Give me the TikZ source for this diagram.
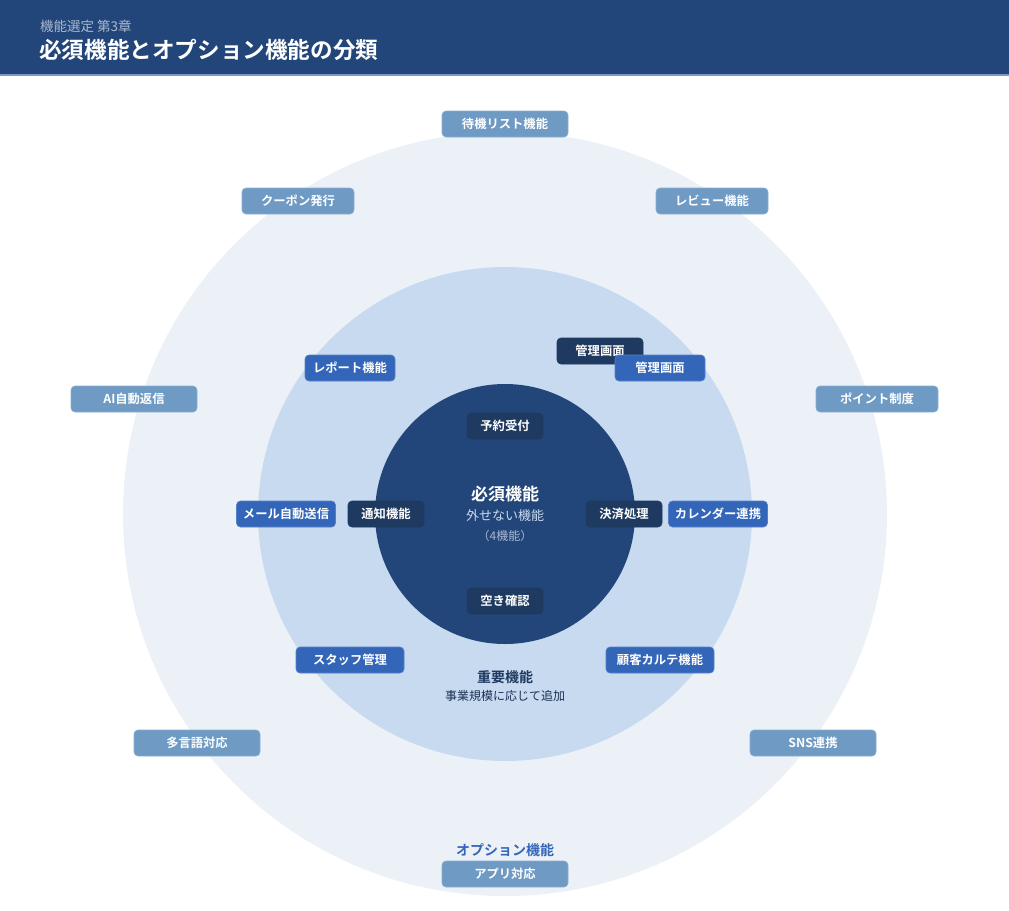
\documentclass[tikz,border=0pt]{standalone}
\usepackage{fontspec}
\setmainfont{Noto Sans CJK JP}[BoldFont={Noto Sans CJK JP Bold}]
\definecolor{hdr}{HTML}{23467A}
\definecolor{hdrline}{HTML}{7C98C0}
\definecolor{outerc}{HTML}{ECF1F8}
\definecolor{midc}{HTML}{C8DAF0}
\definecolor{innerc}{HTML}{23467A}
\definecolor{essc}{HTML}{1E3A60}
\definecolor{impc}{HTML}{3366B8}
\definecolor{impb}{HTML}{5580C8}
\definecolor{optc}{HTML}{6E9AC4}
\definecolor{optb}{HTML}{8AAED2}
\definecolor{subc}{HTML}{A8B8D0}
\begin{document}
\begin{tikzpicture}[x=1pt,y=-1pt,
  lbl/.style={rounded corners=4pt, text=white, font=\bfseries\fontsize{12.3}{14}\selectfont, minimum height=26pt, inner sep=0pt},
  optbox/.style={lbl, fill=optc, draw=optb, line width=0.6pt},
  impbox/.style={lbl, fill=impc, draw=impb, line width=0.6pt},
  essbox/.style={lbl, fill=essc, draw=essc, line width=0.6pt}]
\useasboundingbox (0,0) rectangle (1009,910);
\fill[white] (0,0) rectangle (1009,910);
% header
\fill[hdr] (0,0) rectangle (1009,75);
\fill[hdrline] (0,74) rectangle (1009,76);
\node[anchor=west, text=subc, font=\fontsize{13.5}{15}\selectfont, inner sep=0] (sub) at (40,26) {機能選定 第3章};
\node[anchor=west, text=white, font=\bfseries\fontsize{22.6}{26}\selectfont, inner sep=0] (title) at (39,50) {必須機能とオプション機能の分類};
% circles
\fill[outerc] (505,514) circle (382);
\fill[midc] (505,514) circle (247);
\fill[innerc] (505,514) circle (130);
% option labels
\node[optbox, minimum width=126pt] (o1) at (505,124) {待機リスト機能};
\node[optbox, minimum width=112pt] (o2) at (298,201) {クーポン発行};
\node[optbox, minimum width=112pt] (o3) at (712,201) {レビュー機能};
\node[optbox, minimum width=126pt] (o4) at (134,399) {AI自動返信};
\node[optbox, minimum width=122pt] (o5) at (877,399) {ポイント制度};
\node[optbox, minimum width=126pt] (o6) at (197,743) {多言語対応};
\node[optbox, minimum width=126pt] (o7) at (813,743) {SNS連携};
\node[text=impc, font=\bfseries\fontsize{14}{16}\selectfont, inner sep=0] (optt) at (505,850) {オプション機能};
\node[optbox, minimum width=126pt] (o8) at (505,874) {アプリ対応};
% important labels
\node[essbox, minimum width=86pt] (i0) at (600,351) {管理画面};
\node[impbox, minimum width=90pt] (i1) at (350,368) {レポート機能};
\node[impbox, minimum width=90pt] (i2) at (660,368) {管理画面};
\node[impbox, minimum width=99pt] (i3) at (286,514) {メール自動送信};
\node[impbox, minimum width=99pt] (i4) at (718,514) {カレンダー連携};
\node[impbox, minimum width=108pt] (i5) at (350,660) {スタッフ管理};
\node[impbox, minimum width=108pt] (i6) at (660,660) {顧客カルテ機能};
\node[text=essc, font=\bfseries\fontsize{14}{16}\selectfont, inner sep=0] (impt) at (505,677) {重要機能};
\node[text=essc!85!black, font=\fontsize{12}{14}\selectfont, inner sep=0] (impd) at (505,696) {事業規模に応じて追加};
% essential labels
\node[essbox, minimum width=76pt] (e1) at (505,426) {予約受付};
\node[essbox, minimum width=76pt] (e2) at (386,514) {通知機能};
\node[essbox, minimum width=76pt] (e3) at (624,514) {決済処理};
\node[essbox, minimum width=76pt] (e4) at (505,601) {空き確認};
\node[text=white, font=\bfseries\fontsize{17}{20}\selectfont, inner sep=0] (esst) at (505,494) {必須機能};
\node[text=midc, font=\fontsize{13}{15}\selectfont, inner sep=0] (essd) at (505,516) {外せない機能};
\node[text=subc, font=\fontsize{12}{14}\selectfont, inner sep=0] (essn) at (505,536) {（4機能）};
\end{tikzpicture}
\end{document}
